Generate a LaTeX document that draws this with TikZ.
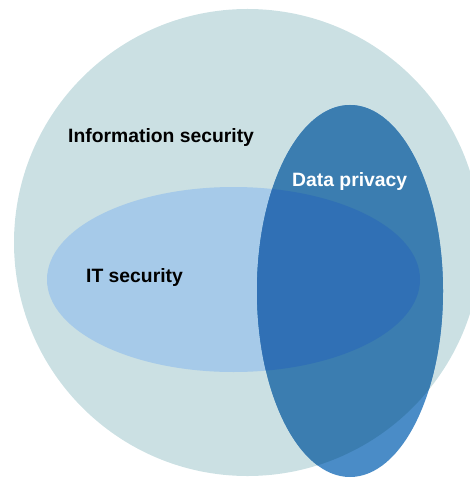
\documentclass[tikz,border=0pt]{standalone}
\usepackage{fontspec}
\setmainfont{Liberation Sans}
\usetikzlibrary{positioning}

\definecolor{infofill}{RGB}{203,224,227}
\definecolor{itfill}{RGB}{166,202,233}
\definecolor{privout}{RGB}{74,140,199}
\definecolor{privin}{RGB}{59,125,176}
\definecolor{privit}{RGB}{48,112,181}

\begin{document}
\begin{tikzpicture}[x=1bp, y=1bp]

% Define styles
\tikzset{label text/.style={anchor=base west, font=\fontsize{19.4}{23}\selectfont\bfseries, inner sep=0pt}}
\tikzset{dark label/.style={label text, text=black}}
\tikzset{light label/.style={label text, text=white}}

% Canvas
\useasboundingbox (0,0) rectangle (470,-478);
\clip (0,0) rectangle (470,-478);

% Shapes
\def\infoset{(247.5,-242.5) circle [radius=233.5]}
\def\itset{(233.5,-279.5) ellipse [x radius=186.5, y radius=92.5]}
\def\privset{(350,-291) ellipse [x radius=93, y radius=186]}

\fill[infofill] \infoset;
\fill[itfill] \itset;
\fill[privout] \privset;
\begin{scope}
  \clip \infoset;
  \fill[privin] \privset;
\end{scope}
\begin{scope}
  \clip \itset;
  \fill[privit] \privset;
\end{scope}

% Labels
\node (infosec) [dark label] at (68,-143) {Information security};
\node (itsec) [dark label] at (86,-282) {IT security};
\node (privacy) [light label] at (292,-187) {Data privacy};

\end{tikzpicture}
\end{document}
